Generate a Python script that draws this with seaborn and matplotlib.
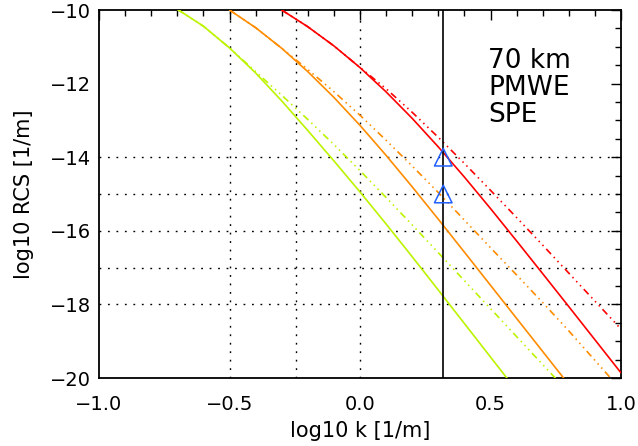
import numpy as np
import pandas as pd
import matplotlib
matplotlib.use("Agg")
import matplotlib.pyplot as plt
from matplotlib.ticker import MultipleLocator
import seaborn as sns

# ---------------- data ----------------
green_solid_x = [-0.7, -0.6, -0.5, -0.4, -0.3, -0.2, -0.1, 0.0, 0.1, 0.2, 0.3, 0.4, 0.5, 0.6]
green_solid_y = [-9.98, -10.44, -11.03, -11.71, -12.47, -13.275, -14.10, -14.945, -15.815,
                 -16.705, -17.61, -18.52, -19.43, -20.34]

green_dash_x = [-0.7, -0.6, -0.5, -0.4, -0.3, -0.2, -0.1, 0.0, 0.1, 0.2, 0.3, 0.4, 0.5, 0.6, 0.7, 0.8]
green_dash_y = [-9.98, -10.44, -11.03, -11.675, -12.315, -12.975, -13.655, -14.365, -15.095,
                -15.84, -16.595, -17.355, -18.115, -18.875, -19.635, -20.395]

orange_solid_x = [-0.5, -0.4, -0.3, -0.2, -0.1, 0.0, 0.1, 0.2, 0.3, 0.4, 0.5, 0.6, 0.7, 0.8]
orange_solid_y = [-10.0, -10.48, -11.04, -11.675, -12.375, -13.135, -13.95, -14.805, -15.685,
                  -16.58, -17.48, -18.38, -19.28, -20.18]

orange_dash_x = [-0.5, -0.4, -0.3, -0.2, -0.1, 0.0, 0.1, 0.2, 0.3, 0.4, 0.5, 0.6, 0.7, 0.8, 0.9, 1.0]
orange_dash_y = [-10.0, -10.48, -11.04, -11.615, -12.22, -12.86, -13.54, -14.24, -14.96,
                 -15.71, -16.46, -17.2, -17.95, -18.72, -19.52, -20.32]

red_solid_x = [-0.3, -0.2, -0.1, 0.0, 0.1, 0.2, 0.3, 0.4, 0.5, 0.6, 0.7, 0.8, 0.9, 1.0]
red_solid_y = [-10.0, -10.455, -10.975, -11.565, -12.225, -12.945, -13.72, -14.54, -15.395,
               -16.275, -17.165, -18.06, -18.96, -19.86]

red_dash_x = [-0.3, -0.2, -0.1, 0.0, 0.1, 0.2, 0.3, 0.4, 0.5, 0.6, 0.7, 0.8, 0.9, 1.0]
red_dash_y = [-10.0, -10.455, -10.975, -11.56, -12.14, -12.78, -13.46, -14.17, -14.9,
              -15.64, -16.39, -17.15, -17.91, -18.67]

triangle_x = [0.319, 0.319]
triangle_y = [-14.0, -15.0]

radar_k = 0.319
grid_x = [-0.5, -0.245, 0.0]
grid_y = [-14, -15, -16, -17, -18]

xtick_vals = [-1.0, -0.5, 0.0, 0.5, 1.0]
xtick_labels = ["\u22121.0", "\u22120.5", "0.0", "0.5", "1.0"]
ytick_vals = [-20, -18, -16, -14, -12, -10]
ytick_labels = ["\u221220", "\u221218", "\u221216", "\u221214", "\u221212", "\u221210"]

annotation_lines = ["70 km", "PMWE", "SPE"]

# ---------------- build table ----------------
frames = []
for grp, kind, xs, ys in [
    ("green", "solid", green_solid_x, green_solid_y),
    ("green", "dash", green_dash_x, green_dash_y),
    ("orange", "solid", orange_solid_x, orange_solid_y),
    ("orange", "dash", orange_dash_x, orange_dash_y),
    ("red", "solid", red_solid_x, red_solid_y),
    ("red", "dash", red_dash_x, red_dash_y),
]:
    frames.append(pd.DataFrame({"logk": xs, "rcs": ys, "grp": grp, "kind": kind}))
df = pd.concat(frames, ignore_index=True)

palette = {"green": "#bcf400", "orange": "#ff8c00", "red": "#ff0000"}
dashes = {"solid": "", "dash": (4.2, 2.4, 0.9, 2.4, 0.9, 2.4, 0.9, 2.4)}

# ---------------- figure ----------------
sns.set_theme(style="white")
plt.rcParams["font.family"] = ["DejaVu Sans"]

W, H = 638, 446
fig = plt.figure(figsize=(W / 100, H / 100), dpi=100)
ax = fig.add_axes([99 / W, (H - 378) / H, 522 / W, 368 / H])

dot = dict(color="black", lw=1.0, dashes=(1.3, 4.8), zorder=1)
for gx in grid_x:
    ax.axvline(gx, **dot)
for gy in grid_y:
    ax.axhline(gy, **dot)

sns.lineplot(data=df, x="logk", y="rcs", hue="grp", style="kind",
             palette=palette, dashes=dashes, estimator=None, errorbar=None,
             legend=False, linewidth=1.2, ax=ax, zorder=3)

ax.axvline(radar_k, color="black", lw=1.2, zorder=4)

sns.scatterplot(x=triangle_x, y=triangle_y, marker="^", s=160,
                facecolor="none", edgecolor="#2060ff", linewidth=1.1,
                ax=ax, zorder=5)

ax.set_xlim(-1.0, 1.0)
ax.set_ylim(-20, -10)
ax.set_xticks(xtick_vals)
ax.set_xticklabels(xtick_labels)
ax.set_yticks(ytick_vals)
ax.set_yticklabels(ytick_labels)
ax.xaxis.set_minor_locator(MultipleLocator(0.1))
ax.yaxis.set_minor_locator(MultipleLocator(0.5))
ax.tick_params(which="both", direction="in", top=True, right=True,
               width=1.0, color="black", labelsize=14, labelcolor="black")
ax.tick_params(which="major", length=7)
ax.tick_params(which="minor", length=4)
ax.tick_params(axis="x", which="major", pad=12)
ax.tick_params(axis="y", which="major", pad=6)

for sp in ax.spines.values():
    sp.set_color("black")
    sp.set_linewidth(1.3)

ax.set_xlabel("log10 k [1/m]", fontsize=15, color="black", labelpad=5)
ax.set_ylabel("log10 RCS [1/m]", fontsize=15, color="black", labelpad=11)

for i, line in enumerate(annotation_lines):
    fig.text(488 / W, 1 - (68.3 + 26.7 * i) / H, line, fontsize=19,
             color="black", ha="left", va="baseline")

fig.savefig("out.png", dpi=100)
